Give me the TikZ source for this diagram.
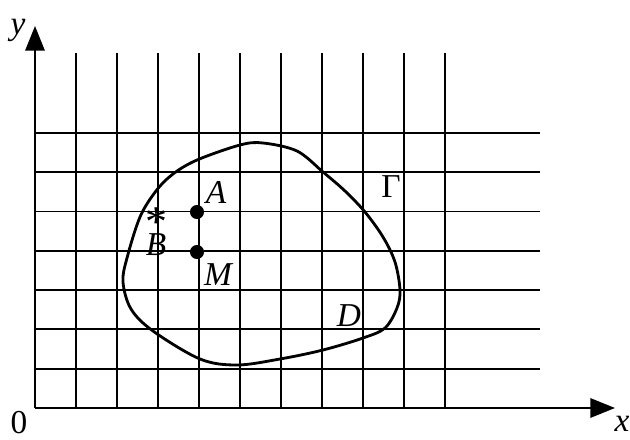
\documentclass[tikz,border=0pt]{standalone}
\usepackage{fontspec}
\setmainfont{Liberation Serif}
\usetikzlibrary{arrows.meta}
\begin{document}
\begin{tikzpicture}[x=0.02cm,y=-0.02cm,
  grid/.style={line width=1.1pt},
  axis/.style={line width=1.2pt,-{Triangle[length=14pt,width=11pt]}},
  curve/.style={line width=1.6pt},
  lbl/.style={font=\fontsize{19}{22}\selectfont\itshape,inner sep=0pt},
  num/.style={font=\fontsize{19}{22}\selectfont,inner sep=0pt},
  star/.style={font=\fontsize{25}{28}\selectfont,inner sep=0pt},
  dot/.style={circle,fill=black,inner sep=0pt,minimum size=8pt}]
\useasboundingbox (0,0) rectangle (630,440);
% grid
\foreach \i in {1,...,10} {\draw[grid] ({35+41*\i},53) -- ({35+41*\i},408);}
\foreach \j in {1,...,7} {\draw[grid] (35,{408-39.3*\j}) -- (540,{408-39.3*\j});}
% axes
\coordinate (O) at (35,408);
\coordinate (Ytip) at (35,26);
\coordinate (Xtip) at (615,408);
\draw[axis] (O) -- (Ytip);
\draw[axis] (O) -- (Xtip);
% boundary
\draw[curve] plot[smooth cycle,tension=0.55] coordinates {
 (263,143) (297,151) (323,172) (345,191) (365,212) (383,237) (395,262)
 (400,290) (397,308) (385,328) (363,338) (323,350) (280,359) (237,365)
 (200,359) (153,331) (131,309) (123,282) (127,258) (140,217) (156,191)
 (173,174) (197,160) (240,145)};
% points
\node[dot] (A) at (197,212) {};
\node[dot] (M) at (197,252) {};
\node[star,anchor=base] (B) at (156,236) {*};
% labels
\node[lbl] (lA) at (216,192) {A};
\node[lbl] (lM) at (218,275) {M};
\node[lbl] (lB) at (156,245) {B};
\node[lbl] (lD) at (349,316) {D};
\node[num] (lG) at (391,187) {Γ};
\node[num] (l0) at (19,423) {0};
\node[lbl] (lx) at (622,424) {x};
\node[lbl] (ly) at (18,30) {y};
\end{tikzpicture}
\end{document}
